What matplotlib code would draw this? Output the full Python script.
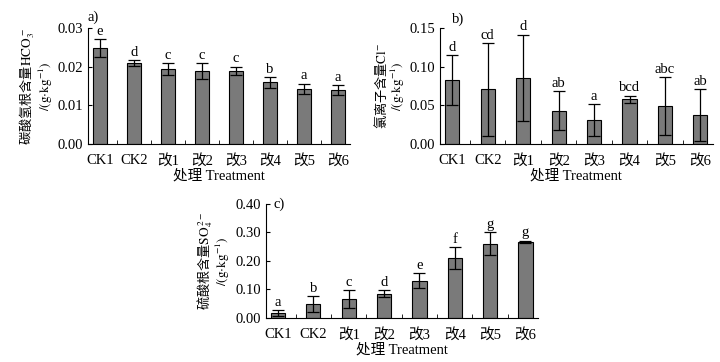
import numpy as np
import matplotlib.pyplot as plt

plt.rcParams['font.family'] = ['Liberation Serif', 'Noto Sans CJK SC']
plt.rcParams['mathtext.fontset'] = 'stix'

treatments = ['CK1', 'CK2', '改1', '改2', '改3', '改4', '改5', '改6']

# a) bicarbonate
hco3 = [0.0248, 0.0209, 0.0194, 0.0189, 0.0189, 0.0159, 0.0142, 0.0140]
hco3_err = [0.0023, 0.0008, 0.0015, 0.0021, 0.0011, 0.0014, 0.0014, 0.0013]
hco3_sig = ['e', 'd', 'c', 'c', 'c', 'b', 'a', 'a']

# b) chloride
cl = [0.0826, 0.0709, 0.0856, 0.0432, 0.0311, 0.0579, 0.0493, 0.0372]
cl_err = [0.0327, 0.0600, 0.0557, 0.0250, 0.0210, 0.0047, 0.0377, 0.0337]
cl_sig = ['d', 'cd', 'd', 'ab', 'a', 'bcd', 'abc', 'ab']

# c) sulfate
so4 = [0.0163, 0.0490, 0.0665, 0.0851, 0.1306, 0.2100, 0.2600, 0.2665]
so4_err = [0.0105, 0.0280, 0.0310, 0.0135, 0.0260, 0.0370, 0.0410, 0.0045]
so4_sig = ['a', 'b', 'c', 'd', 'e', 'f', 'g', 'g']

fig = plt.figure(figsize=(7.2, 3.62), dpi=100)
ax_a = fig.add_axes([0.122, 0.602, 0.364, 0.321])
ax_b = fig.add_axes([0.611, 0.602, 0.379, 0.321])
ax_c = fig.add_axes([0.369, 0.122, 0.378, 0.315])

unit = '\n$/(\\mathrm{g{\\cdot}kg}^{-1})$'
panels = [
    (ax_a, hco3, hco3_err, hco3_sig, 0.03, [0.00, 0.01, 0.02, 0.03],
     '碳酸氢根含量$\\mathrm{HCO}_3^{\\,-}$' + unit),
    (ax_b, cl, cl_err, cl_sig, 0.15, [0.00, 0.05, 0.10, 0.15],
     '氯离子含量$\\mathrm{Cl}^{-}$' + unit),
    (ax_c, so4, so4_err, so4_sig, 0.40, [0.00, 0.10, 0.20, 0.30, 0.40],
     '硫酸根含量$\\mathrm{SO}_4^{\\,2-}$' + unit),
]

x = np.arange(len(treatments))
for ax, vals, errs, sig, ymax, yt, ylab in panels:
    ax.bar(x, vals, width=0.4, color='#7a7a7a', edgecolor='black', linewidth=0.8)
    ax.errorbar(x, vals, yerr=errs, fmt='none', ecolor='black', elinewidth=0.9,
                capsize=4, capthick=0.9)
    for xi, v, e, s in zip(x, vals, errs, sig):
        ax.text(xi, v + e + ymax * 0.01, s, ha='center', va='bottom', fontsize=10.5)
    ax.set_xlim(-0.35, 7.35)
    ax.set_ylim(0, ymax)
    ax.set_yticks(yt)
    ax.set_yticklabels(['{:.2f}'.format(t) for t in yt])
    ax.set_xticks(x)
    ax.set_xticklabels(treatments)
    ax.set_xticks(x[:-1] + 0.5, minor=True)
    ax.tick_params(axis='x', which='major', length=0, labelsize=10.5, pad=7)
    ax.tick_params(axis='x', which='minor', direction='in', length=3)
    ax.tick_params(axis='y', direction='in', length=3, labelsize=10.5)
    ax.spines['top'].set_visible(False)
    ax.spines['right'].set_visible(False)
    ax.set_xlabel('处理 Treatment', fontsize=10.5, labelpad=1)
    ax.set_ylabel(ylab, fontsize=9.5, labelpad=2, linespacing=0.95,
                  family='Noto Sans CJK SC')

ax_a.text(0.0, 1.03, 'a)', transform=ax_a.transAxes, fontsize=10.5, va='bottom')
ax_b.text(0.045, 1.07, 'b)', transform=ax_b.transAxes, fontsize=10.5, va='center')
ax_c.text(0.03, 1.0, 'c)', transform=ax_c.transAxes, fontsize=10.5, va='center')

fig.savefig('out.png', dpi=100)
